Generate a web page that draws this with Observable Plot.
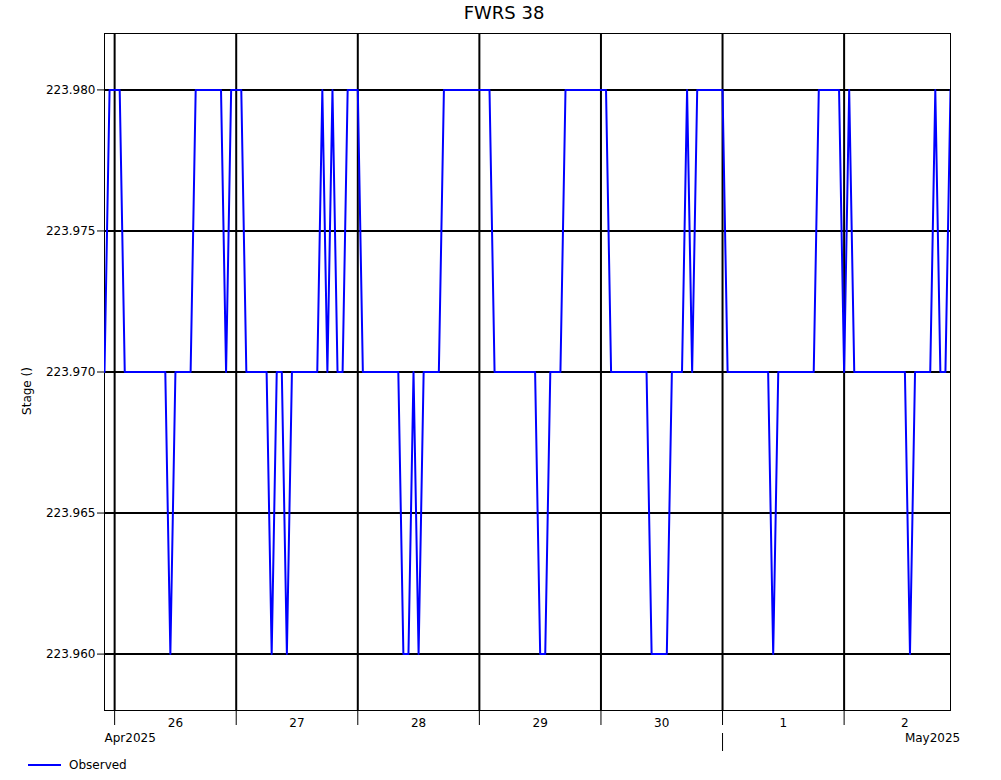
<!DOCTYPE html>
<html><head><meta charset="utf-8">
<script src="https://cdn.jsdelivr.net/npm/d3@7"></script>
<script src="https://cdn.jsdelivr.net/npm/@observablehq/plot@0.6"></script>
<style>
body{margin:0;background:#fff;font-family:"DejaVu Sans",sans-serif;color:#000;}
#wrap{width:1001px;height:780px;position:relative;overflow:hidden;background:#fff}
#title{height:26px;line-height:26px;font-size:18px;text-align:center;padding-left:7px;box-sizing:border-box;width:1001px}
#chart{height:729px}
#legend{height:20px;display:flex;align-items:center;padding-left:28px;font-size:12px}
#legend .sw{display:inline-block;width:33px;height:2px;background:#0000ff;margin-right:8px}
#ylabel{position:absolute;left:27px;top:391px;transform:translate(-50%,-50%) rotate(-90deg);font-size:12px;white-space:nowrap;line-height:14px}
</style></head><body>
<div id="wrap">
<div id="title"></div>
<div id="chart"></div>
<div id="legend"><span class="sw"></span><span id="legtext"></span></div>
<div id="ylabel"></div>
</div>
<script>
const titleText = "FWRS 38";
const seriesName = "Observed";
const yLabel = "Stage ()";
const yTicks = [223.960, 223.965, 223.970, 223.975, 223.980];
const dayLabels = ["26", "27", "28", "29", "30", "1", "2"];
const monthLabels = ["Apr2025", "May2025"];

// hourly observed stage, one array per day (first day starts at 22:00)
const apr25 = [223.97, 223.98];
const apr26 = [223.98,223.98,223.97,223.97,223.97,223.97,223.97,223.97,223.97,223.97,223.97,223.96,223.97,223.97,223.97,223.97,223.98,223.98,223.98,223.98,223.98,223.98,223.97,223.98];
const apr27 = [223.98,223.98,223.97,223.97,223.97,223.97,223.97,223.96,223.97,223.97,223.96,223.97,223.97,223.97,223.97,223.97,223.97,223.98,223.97,223.98,223.97,223.97,223.98,223.98];
const apr28 = [223.98,223.97,223.97,223.97,223.97,223.97,223.97,223.97,223.97,223.96,223.96,223.97,223.96,223.97,223.97,223.97,223.97,223.98,223.98,223.98,223.98,223.98,223.98,223.98];
const apr29 = [223.98,223.98,223.98,223.97,223.97,223.97,223.97,223.97,223.97,223.97,223.97,223.97,223.96,223.96,223.97,223.97,223.97,223.98,223.98,223.98,223.98,223.98,223.98,223.98];
const apr30 = [223.98,223.98,223.97,223.97,223.97,223.97,223.97,223.97,223.97,223.97,223.96,223.96,223.96,223.96,223.97,223.97,223.97,223.98,223.97,223.98,223.98,223.98,223.98,223.98];
const may01 = [223.98,223.97,223.97,223.97,223.97,223.97,223.97,223.97,223.97,223.97,223.96,223.97,223.97,223.97,223.97,223.97,223.97,223.97,223.97,223.98,223.98,223.98,223.98,223.98];
const may02 = [223.97,223.98,223.97,223.97,223.97,223.97,223.97,223.97,223.97,223.97,223.97,223.97,223.97,223.96,223.97,223.97,223.97,223.97,223.98,223.97,223.97,223.98];

const days = [
  ["2025-04-25", 22, apr25],
  ["2025-04-26", 0, apr26],
  ["2025-04-27", 0, apr27],
  ["2025-04-28", 0, apr28],
  ["2025-04-29", 0, apr29],
  ["2025-04-30", 0, apr30],
  ["2025-05-01", 0, may01],
  ["2025-05-02", 0, may02]
];

const data = [];
for (const [day, h0, vals] of days) {
  const base = new Date(day + "T00:00:00Z");
  vals.forEach((v, i) => data.push({time: d3.utcHour.offset(base, h0 + i), stage: v}));
}

const midnights = days.slice(1).map(([day]) => new Date(day + "T00:00:00Z"));
const noons = midnights.map(d => d3.utcHour.offset(d, 12));
const dayLabelByTime = new Map(noons.map((d, i) => [+d, dayLabels[i]]));
const monthStarts = [new Date("2025-05-01T00:00:00Z")];
const monthMarks = [
  {time: data[0].time, label: monthLabels[0]},
  {time: new Date("2025-05-02T12:00:00Z"), label: monthLabels[1]}
];

document.getElementById("title").textContent = titleText;
document.getElementById("legtext").textContent = seriesName;
document.getElementById("ylabel").textContent = yLabel;

const chart = Plot.plot({
  width: 1001,
  height: 729,
  marginTop: 7,
  marginBottom: 45,
  marginLeft: 104,
  marginRight: 51,
  style: {fontFamily: "DejaVu Sans", fontSize: "12px", color: "black", background: "white", overflow: "visible"},
  x: {type: "utc", domain: d3.extent(data, d => d.time)},
  y: {domain: [223.958, 223.982]},
  marks: [
    Plot.gridX(midnights, {stroke: "black", strokeOpacity: 1, strokeWidth: 2}),
    Plot.gridY(yTicks, {stroke: "black", strokeOpacity: 1, strokeWidth: 2}),
    Plot.frame({stroke: "black", strokeWidth: 1}),
    Plot.axisY(yTicks, {tickFormat: d3.format(".3f"), tickSize: 7, tickPadding: 2, label: null}),
    Plot.axisX(midnights, {tickSize: 15, tickFormat: () => "", label: null}),
    Plot.axisX(noons, {tickSize: 0, tickPadding: 8, tickFormat: d => dayLabelByTime.get(+d), label: null}),
    Plot.axisX(monthStarts, {tickSize: 18, dy: 23, tickFormat: () => "", label: null}),
    Plot.text(monthMarks, {x: "time", text: "label", frameAnchor: "bottom", dy: 31, textAnchor: "start"}),
    Plot.line(data, {x: "time", y: "stage", stroke: "#0000ff", strokeWidth: 2, clip: true})
  ]
});
document.getElementById("chart").appendChild(chart);
</script>
</body></html>
